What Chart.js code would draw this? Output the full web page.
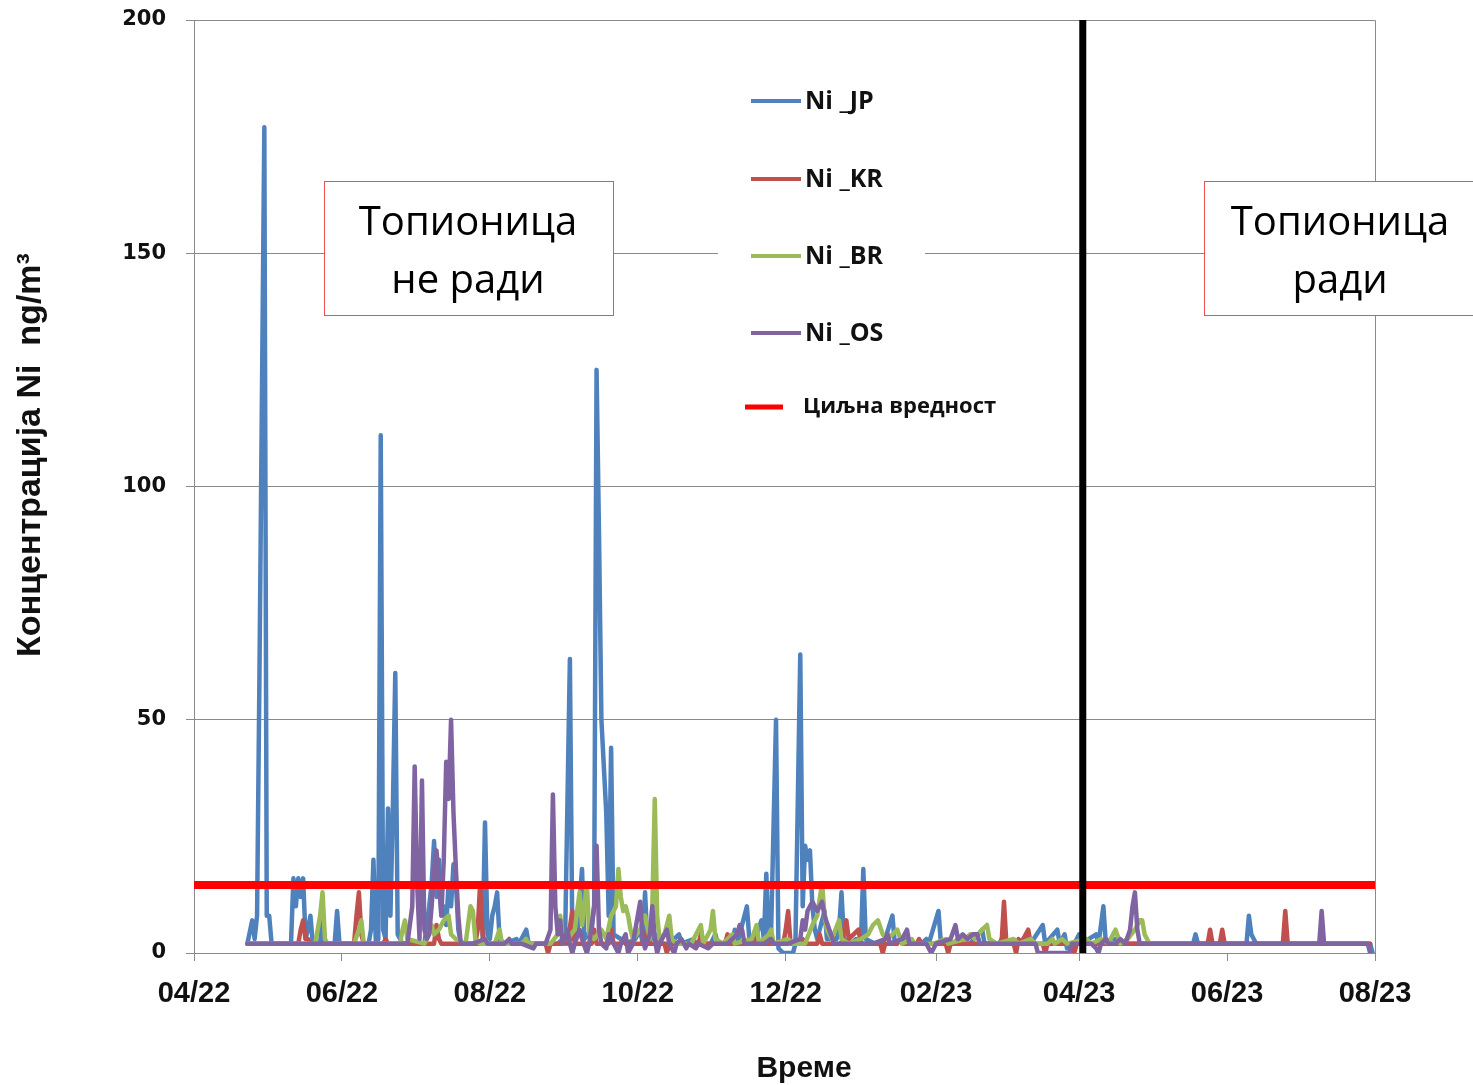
<!DOCTYPE html>
<html>
<head>
<meta charset="utf-8">
<script src="https://cdn.jsdelivr.net/npm/chart.js@4.4.1/dist/chart.umd.min.js"></script>
<style>
html,body{margin:0;padding:0;background:#fff;}
#wrap{position:relative;width:1473px;height:1085px;}
</style>
</head>
<body>
<div id="wrap"><canvas id="c"></canvas></div>
<script>
// ---- Data (x = days since 1 Apr 2022, y = Ni concentration ng/m3) ----
const tickDays   = [0, 61, 122, 183, 244, 306, 365, 426, 487];
const tickLabels = ['04/22','06/22','08/22','10/22','12/22','02/23','04/23','06/23','08/23'];

const seriesNames = ['Ni _JP', 'Ni _KR', 'Ni _BR', 'Ni _OS'];
const targetLabel = 'Циљна вредност';
const targetValue = 14.6;
const smelterStartDay = 366.5;

const niJP = [
[22,2],[24,7],[25,3],[26,8],[27,60],[29,177],[30,8],[31,8],[32,2],
[40,2],[41,16],[42,10],[43,16],[44,12],[45,16],[46,3],[47,5],[48,8],[49,2],[52,2],[53,8],[54,2],[58,2],[59,9],[60,2],
[72,2],[73,5],[74,20],[75,2],[76,3],[77,111],[78,5],[79,3],[80,31],[81,8],[82,31],[83,60],[84,4],[85,3],[86,2],
[95,2],[97,10],[98,15],[99,24],[100,12],[101,20],[102,8],[103,10],[104,6],[105,15],[106,10],[107,19],[108,15],[109,5],[110,2],
[118,2],[119,3],[120,28],[121,4],[122,3],[123,8],[124,10],[125,13],[126,3],[128,2],[133,3],[134,2],[137,5],[138,2],
[150,2],[152,3],[153,2],[155,63],[156,3],[158,4],[160,18],[161,3],[164,5],[165,10],[166,125],[167,90],[168,50],[169,40],[170,30],[171,8],[172,44],[173,4],[176,3],[178,2],[182,3],[184,5],[185,2],[186,13],[187,2],[190,4],[191,2],
[196,2],[200,4],[201,2],[206,3],[207,2],[213,2],[215,4],[216,2],[222,2],[223,5],[224,2],[228,10],[229,3],[232,4],[234,7],[235,3],[236,17],[237,2],[238,5],[240,50],[241,1],[243,0],[247,0],[248,2],[250,64],[251,10],[252,23],[253,20],[254,22],[255,10],[256,5],[257,3],[260,9],[261,3],[265,3],[266,5],[267,13],[268,3],[271,2],[273,3],[275,2],[276,18],[277,3],[281,2],[283,2],[285,3],[288,8],[289,2],[293,3],[295,2],[300,2],[302,3],[303,2],[307,9],[308,2],[313,2],[315,3],[316,2],[320,2],[325,5],[326,2],[332,2],[333,3],[334,2],[340,2],[344,4],[345,2],[350,6],[351,2],[356,5],[357,2],[359,4],[360,1],[363,2],[365,4],[366,2],[372,4],[373,2],[375,10],[376,2],[378,3],[380,3],[383,2],[412,2],[413,4],[414,2],[434,2],[435,8],[436,4],[437,3],[438,2],[485,2],[486,0]
];

const niKR = [
[22,2],[43,2],[44,5],[45,7],[46,3],[47,3],[48,2],[66,2],[67,8],[68,13],[69,4],[70,2],[78,2],[79,3],[80,2],[99,2],[100,6],[101,3],[102,2],[116,2],[117,5],[118,15],[119,4],[120,2],[145,2],[146,0],[147,2],[152,2],[153,4],[154,2],[156,9],[157,2],[164,2],[165,5],[166,2],[171,2],[172,5],[173,2],[176,2],[177,3],[178,2],[185,2],[186,4],[187,2],[194,2],[195,0],[196,2],[208,2],[209,4],[210,2],[219,2],[220,4],[221,2],[230,2],[231,3],[232,2],[243,2],[244,5],[245,9],[246,2],[250,2],[251,3],[252,2],[257,2],[258,4],[259,2],[267,2],[268,5],[269,7],[270,3],[272,4],[274,5],[275,2],[283,2],[284,0],[285,2],[290,2],[291,3],[292,2],[298,2],[299,3],[300,2],[310,2],[311,0],[312,2],[333,2],[334,11],[335,2],[338,2],[339,0],[340,3],[341,2],[343,4],[344,5],[345,2],[350,2],[351,0],[352,2],[362,2],[363,0],[364,2],[418,2],[419,5],[420,2],[423,2],[424,5],[425,2],[449,2],[450,9],[451,2],[485,2]
];

const niBR = [
[22,2],[50,2],[52,8],[53,13],[54,3],[55,2],[66,2],[68,5],[69,7],[70,2],[85,2],[86,5],[87,7],[88,3],[95,2],[96,3],[98,6],[99,4],[101,5],[103,7],[105,8],[106,4],[108,3],[112,2],[114,10],[115,9],[116,3],[118,2],[124,2],[126,5],[127,2],[135,2],[137,3],[138,2],[147,2],[150,4],[151,8],[152,4],[154,3],[157,5],[159,13],[160,6],[161,10],[162,15],[163,4],[165,3],[168,5],[170,3],[172,8],[174,10],[175,18],[176,12],[177,9],[178,10],[179,8],[180,5],[181,3],[184,5],[186,8],[188,3],[189,10],[190,33],[191,8],[192,3],[194,4],[196,8],[197,3],[199,2],[205,2],[208,5],[209,6],[210,2],[213,5],[214,9],[215,3],[218,2],[222,4],[223,2],[230,3],[232,6],[233,2],[237,4],[238,5],[239,2],[245,3],[247,2],[252,2],[255,6],[257,8],[259,15],[260,8],[261,5],[263,3],[266,7],[267,3],[270,2],[275,3],[278,4],[280,6],[282,7],[284,4],[286,3],[290,5],[292,2],[296,3],[297,2],[305,2],[310,3],[311,2],[318,3],[320,4],[322,3],[325,5],[327,6],[328,3],[331,2],[338,3],[340,2],[345,3],[347,2],[352,2],[354,3],[355,2],[358,3],[360,2],[368,3],[370,2],[374,3],[377,2],[379,4],[380,5],[382,2],[385,3],[388,5],[390,7],[391,7],[392,4],[394,2]
];

const niOS = [
[22,2],[88,2],[90,10],[91,40],[92,15],[93,3],[94,37],[95,5],[96,3],[97,4],[98,10],[99,18],[100,22],[101,15],[102,8],[103,20],[104,41],[105,33],[106,50],[107,30],[108,18],[109,8],[110,2],[115,2],[120,3],[121,2],[128,2],[130,3],[131,2],[135,2],[140,1],[141,2],[145,2],[147,5],[148,34],[149,10],[150,4],[151,7],[152,2],[153,3],[154,5],[155,2],[156,0],[157,2],[159,5],[160,3],[162,0],[163,2],[165,10],[166,23],[167,5],[168,2],[170,1],[171,4],[172,3],[174,1],[175,0],[176,2],[178,4],[179,0],[181,2],[182,5],[184,11],[185,3],[186,1],[188,4],[189,10],[190,3],[191,0],[192,2],[194,4],[195,5],[196,2],[198,0],[199,2],[201,3],[203,1],[204,2],[207,1],[208,2],[212,1],[214,2],[220,2],[224,4],[225,6],[226,5],[227,2],[235,2],[238,3],[239,2],[245,2],[250,3],[251,7],[252,5],[253,9],[255,11],[257,9],[259,11],[260,8],[262,5],[264,2],[275,2],[280,2],[285,3],[286,4],[287,2],[292,3],[294,5],[295,2],[302,2],[304,0],[306,2],[312,3],[314,6],[315,3],[317,4],[319,3],[321,4],[323,4],[324,2],[330,2],[340,2],[347,2],[348,0],[361,0],[362,2],[370,2],[372,1],[373,0],[374,2],[376,3],[377,2],[380,2],[382,3],[384,2],[386,5],[387,10],[388,13],[389,5],[390,2],[393,2],[464,2],[465,9],[466,2],[484,2],[485,0]
];

const seriesColors = ['#4F81BD', '#C0504D', '#9BBB59', '#8064A2'];

// ---- Build chart ----
const toPts = arr => arr.map(p => ({x: p[0], y: p[1]}));
const seriesData = [niJP, niKR, niBR, niOS];

const datasets = seriesData.map((d, i) => ({
  label: seriesNames[i],
  data: toPts(d),
  borderColor: seriesColors[i],
  backgroundColor: seriesColors[i],
  borderWidth: 4.5,
  pointRadius: 0,
  tension: 0,
  borderJoinStyle: 'round',
  borderCapStyle: 'round',
  order: 5 - i,
  isSeries: true
}));
datasets.push({
  label: targetLabel,
  data: [{x: 0, y: targetValue}, {x: tickDays[tickDays.length-1] + 1, y: targetValue}],
  borderColor: '#FF0000',
  borderWidth: 8,
  pointRadius: 0,
  order: 1,
  isTarget: true
});
datasets.push({
  label: 'start',
  data: [{x: smelterStartDay, y: 0}, {x: smelterStartDay, y: 200}],
  borderColor: '#000000',
  borderWidth: 7,
  pointRadius: 0,
  order: 0
});

const FONT_SANS = '"Liberation Sans", Arial, sans-serif';
const FONT_TEXT = '"Open Sans", "Noto Sans", sans-serif';

const overlay = {
  id: 'overlay',
  beforeDatasetsDraw(chart) {
    const {ctx, chartArea: a} = chart;
    ctx.save();
    ctx.strokeStyle = '#8a8a8a';
    ctx.lineWidth = 1;
    ctx.beginPath();
    ctx.moveTo(a.left, a.top + 0.5);
    ctx.lineTo(a.right + 0.5, a.top + 0.5);
    ctx.lineTo(a.right + 0.5, a.bottom);
    ctx.stroke();
    // legend background box hides gridline
    ctx.fillStyle = '#fff';
    ctx.fillRect(718, 70, 207, 300);
    ctx.restore();
  },
  afterDraw(chart) {
    const ctx = chart.ctx;
    ctx.save();
    // legend
    const ds = chart.data.datasets;
    const rows = [101, 179, 256, 333];
    ctx.textBaseline = 'middle';
    ctx.textAlign = 'left';
    ds.filter(d => d.isSeries).forEach((d, i) => {
      ctx.strokeStyle = d.borderColor;
      ctx.lineWidth = 4;
      ctx.beginPath();
      ctx.moveTo(751, rows[i]);
      ctx.lineTo(801, rows[i]);
      ctx.stroke();
      ctx.fillStyle = '#111';
      ctx.font = 'bold 25px ' + FONT_TEXT;
      ctx.fillText(d.label, 805, rows[i] + 1);
    });
    const t = ds.find(d => d.isTarget);
    ctx.strokeStyle = t.borderColor;
    ctx.lineWidth = 5;
    ctx.beginPath();
    ctx.moveTo(745, 407);
    ctx.lineTo(783, 407);
    ctx.stroke();
    ctx.fillStyle = '#111';
    ctx.font = 'bold 22px ' + FONT_TEXT;
    ctx.fillText(t.label, 803, 407);

    // annotation boxes
    const boxes = [
      {x: 324.5, y: 181.5, w: 289, h: 134, cx: 468, lines: ['Топионица', 'не ради']},
      {x: 1204.5, y: 181.5, w: 290, h: 134, cx: 1340, lines: ['Топионица', 'ради']}
    ];
    boxes.forEach(b => {
      ctx.fillStyle = '#fff';
      ctx.fillRect(b.x, b.y, b.w, b.h);
      ctx.strokeStyle = '#F05050';
      ctx.lineWidth = 1;
      ctx.strokeRect(b.x, b.y, b.w, b.h);
      ctx.fillStyle = '#000';
      ctx.font = '40px ' + FONT_TEXT;
      ctx.textAlign = 'center';
      ctx.fillText(b.lines[0], b.cx, 224);
      ctx.fillText(b.lines[1], b.cx, 282);
    });

    // axis titles
    ctx.fillStyle = '#111';
    ctx.textAlign = 'center';
    ctx.font = 'bold 30px ' + FONT_SANS;
    ctx.fillText('Време', 804, 1069);
    ctx.translate(31, 455);
    ctx.rotate(-Math.PI / 2);
    ctx.font = 'bold 34px ' + FONT_SANS;
    ctx.fillText('Концентрација Ni  ng/m³', 0, 0);
    ctx.restore();
  }
};

new Chart(document.getElementById('c'), {
  type: 'line',
  data: {datasets},
  options: {
    responsive: true,
    maintainAspectRatio: false,
    animation: false,
    layout: {padding: {top: 20, right: 98, left: 0, bottom: 0}},
    plugins: {legend: {display: false}, tooltip: {enabled: false}},
    scales: {
      x: {
        type: 'linear',
        min: tickDays[0],
        max: tickDays[tickDays.length - 1],
        afterBuildTicks: s => { s.ticks = tickDays.map(v => ({value: v})); },
        afterFit: s => { s.height = 132; s.paddingLeft = 0; s.paddingRight = 0; },
        grid: {drawOnChartArea: false, drawTicks: true, tickLength: 8, color: '#8a8a8a'},
        border: {display: true, color: '#8a8a8a', width: 1},
        ticks: {
          autoSkip: false,
          maxRotation: 0,
          padding: 16,
          color: '#111',
          font: {family: FONT_SANS, size: 29, weight: 'bold'},
          callback: v => { const i = tickDays.indexOf(v); return i >= 0 ? tickLabels[i] : ''; }
        }
      },
      y: {
        min: 0,
        max: 200,
        afterFit: s => { s.width = 194; s.paddingTop = 0; s.paddingBottom = 0; },
        grid: {color: '#8a8a8a', tickLength: 8, lineWidth: 1},
        border: {display: true, color: '#8a8a8a', width: 1},
        ticks: {
          stepSize: 50,
          padding: 20,
          color: '#111',
          font: {family: '"DejaVu Sans", Verdana, sans-serif', size: 21, weight: 'bold'}
        }
      }
    }
  },
  plugins: [overlay]
});
</script>
</body>
</html>
